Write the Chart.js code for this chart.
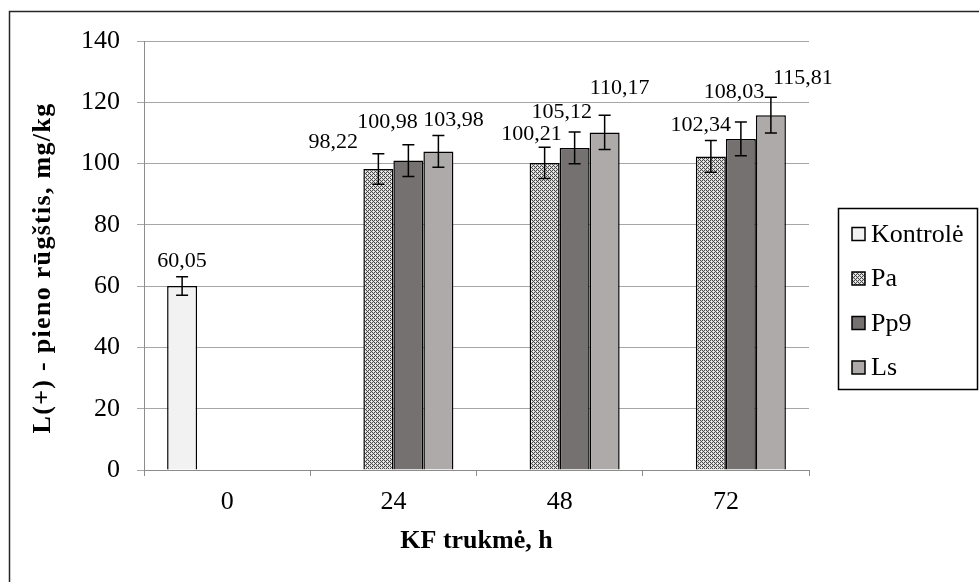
<!DOCTYPE html>
<html lang="lt">
<head>
<meta charset="utf-8">
<title>L(+) - pieno rūgštis</title>
<script src="https://cdn.jsdelivr.net/npm/chart.js@4.4.1/dist/chart.umd.min.js"></script>
<style>
    html, body { margin: 0; padding: 0; background: #fff; }
    canvas { display: block; }
</style>
</head>
<body>
<canvas id="rugstisChart" width="979" height="582"></canvas>
<script>
// Duomenys: L(+) pieno rūgštis, mg/kg pagal KF trukmę
const kategorijos = ['0', '24', '48', '72'];
const kontrole = [60.05, null, null, null];
const pa = [null, 98.22, 100.21, 102.34];
const pp9 = [null, 100.98, 105.12, 108.03];
const ls = [null, 103.98, 110.17, 115.81];

// standartiniai nuokrypiai (paklaidų stulpeliai)
const kontroleSd = [3.0, null, null, null];
const paSd = [null, 5.0, 5.1, 5.2];
const pp9Sd = [null, 5.2, 5.2, 5.5];
const lsSd = [null, 5.2, 5.6, 5.8];

const yMin = 0;
const yMax = 140;
const yZingsnis = 20;

const serif = '"Liberation Serif", "Times New Roman", serif';
const yPavadinimas = 'L(+) - pieno rūgštis, mg/kg';

// Pa - taškuotas raštas
function taskuotasRastas() {
    const c = document.createElement('canvas');
    c.width = 4;
    c.height = 4;
    const g = c.getContext('2d');
    g.fillStyle = '#d6d6d6';
    g.fillRect(0, 0, 4, 4);
    g.fillStyle = '#4a4a4a';
    [[0, 0], [2, 0], [1, 1], [0, 2], [2, 2], [3, 3]].forEach(([x, y]) => g.fillRect(x, y, 1, 1));
    g.fillStyle = '#f4f4f4';
    g.fillRect(1, 3, 1, 1);
    g.fillRect(3, 1, 1, 1);
    return g.createPattern(c, 'repeat');
}

// etikečių poslinkiai (dx, aukštis virš paklaidos viršaus)
const etikeciuPoslinkis = [
    [[0, 16], null, null, null],
    [null, [-45, 11], [-13, 13], [-10, 15]],
    [null, [-21, 22], [-13, 20], [-7, 30]],
    [null, [15, 15], [15, 27], [32, 19]]
];

const fmt = v => v.toFixed(2).replace('.', ',');

const paklaidos = {
    id: 'paklaidos',
    afterDatasetsDraw(chart) {
        const ctx = chart.ctx;
        const y = chart.scales.y;
        ctx.save();
        chart.data.datasets.forEach((ds, di) => {
            const meta = chart.getDatasetMeta(di);
            meta.data.forEach((bar, i) => {
                const v = ds.data[i];
                const sd = ds.sd[i];
                if (v == null) return;
                const yTop = y.getPixelForValue(v + sd);
                const yBot = y.getPixelForValue(v - sd);
                ctx.strokeStyle = '#000';
                ctx.lineWidth = 1.5;
                ctx.beginPath();
                ctx.moveTo(bar.x, yTop);
                ctx.lineTo(bar.x, yBot);
                ctx.moveTo(bar.x - 6, yTop);
                ctx.lineTo(bar.x + 6, yTop);
                ctx.moveTo(bar.x - 6, yBot);
                ctx.lineTo(bar.x + 6, yBot);
                ctx.stroke();

                const p = etikeciuPoslinkis[di][i] || [0, 14];
                ctx.fillStyle = '#000';
                ctx.font = '22px ' + serif;
                ctx.textAlign = 'center';
                ctx.textBaseline = 'middle';
                ctx.fillText(fmt(v), bar.x + p[0], yTop - p[1]);
            });
        });
        ctx.restore();
    }
};

// fonas, rėmelis, Y ašies pavadinimas ir legenda
const remelis = {
    id: 'remelis',
    beforeDraw(chart) {
        const ctx = chart.ctx;
        ctx.save();
        ctx.fillStyle = '#fff';
        ctx.fillRect(0, 0, chart.width, chart.height);
        ctx.strokeStyle = '#262626';
        ctx.lineWidth = 1.5;
        ctx.strokeRect(9.5, 11.5, 2000, 2000);
        ctx.restore();
    },
    afterDraw(chart) {
        const ctx = chart.ctx;
        ctx.save();
        ctx.translate(43, 268);
        ctx.rotate(-Math.PI / 2);
        ctx.fillStyle = '#000';
        ctx.font = 'bold 26px ' + serif;
        ctx.letterSpacing = '1.3px';
        ctx.textAlign = 'center';
        ctx.textBaseline = 'middle';
        ctx.fillText(yPavadinimas, 0, 0);
        ctx.restore();

        ctx.save();
        ctx.strokeStyle = '#000';
        ctx.lineWidth = 1.5;
        ctx.strokeRect(838.5, 208.5, 139, 181);
        chart.data.datasets.forEach((ds, i) => {
            const cy = 234 + i * 44.5;
            ctx.fillStyle = ds.backgroundColor;
            ctx.fillRect(852, cy - 6.5, 13, 13);
            ctx.strokeRect(852, cy - 6.5, 13, 13);
            ctx.fillStyle = '#000';
            ctx.font = '26px ' + serif;
            ctx.textAlign = 'left';
            ctx.textBaseline = 'middle';
            ctx.fillText(ds.label, 871, cy + 1);
        });
        ctx.restore();
    }
};

const ctx = document.getElementById('rugstisChart').getContext('2d');

new Chart(ctx, {
    type: 'bar',
    data: {
        labels: kategorijos,
        datasets: [
            { label: 'Kontrolė', data: kontrole, sd: kontroleSd, backgroundColor: '#f2f2f2' },
            { label: 'Pa', data: pa, sd: paSd, backgroundColor: taskuotasRastas() },
            { label: 'Pp9', data: pp9, sd: pp9Sd, backgroundColor: '#767171' },
            { label: 'Ls', data: ls, sd: lsSd, backgroundColor: '#aeaaaa' }
        ].map(d => Object.assign(d, {
            borderColor: '#000',
            borderWidth: 1.5,
            categoryPercentage: 0.722,
            barPercentage: 1
        }))
    },
    options: {
        responsive: false,
        animation: false,
        devicePixelRatio: 1,
        layout: { padding: { top: 41, right: 170, bottom: 0, left: 0 } },
        plugins: {
            legend: { display: false },
            tooltip: { enabled: false }
        },
        scales: {
            x: {
                afterFit: s => { s.height = 112; },
                grid: { offset: true, drawOnChartArea: false, drawTicks: true, tickLength: 6, color: '#8c8c8c', lineWidth: 1 },
                border: { color: '#8c8c8c', width: 1 },
                ticks: { color: '#000', font: { family: serif, size: 26 }, padding: 11 },
                title: {
                    display: true,
                    text: 'KF trukmė, h',
                    color: '#000',
                    font: { family: serif, size: 26, weight: 'bold' },
                    padding: { top: 0, bottom: 25 }
                }
            },
            y: {
                min: yMin,
                max: yMax,
                afterFit: s => { s.width = 144; },
                grid: { color: '#a6a6a6', lineWidth: 1, tickLength: 7 },
                border: { color: '#8c8c8c', width: 1 },
                ticks: { stepSize: yZingsnis, color: '#000', font: { family: serif, size: 26 }, padding: 17 }
            }
        }
    },
    plugins: [remelis, paklaidos]
});
</script>
</body>
</html>
